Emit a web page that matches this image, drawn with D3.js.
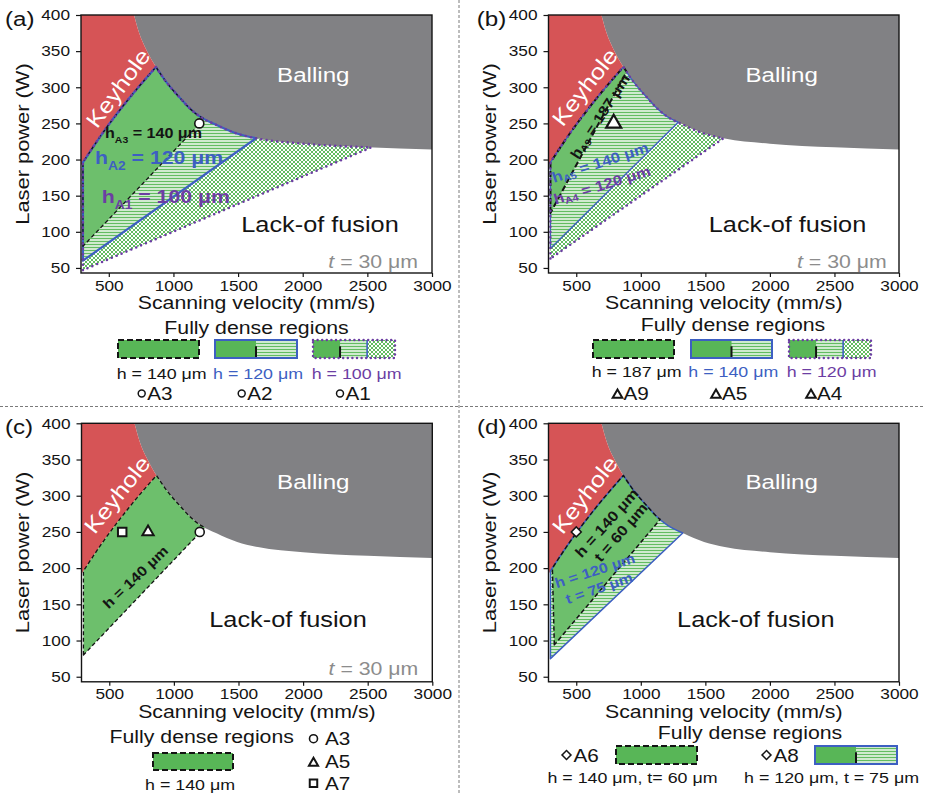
<!DOCTYPE html>
<html>
<head>
<meta charset="utf-8">
<script src="https://cdn.jsdelivr.net/npm/d3@7/dist/d3.min.js"></script>
<style>
  html, body { margin: 0; padding: 0; background: #fff; }
  svg { display: block; }
</style>
</head>
<body>
<svg id="fig" width="925" height="793"></svg>
<script>
// ---------------- data ----------------
const velocityDomain = [285, 3000];   // scanning velocity, mm/s
const powerDomain = [43, 400];        // laser power, W
const velocityTicks = [500, 1000, 1500, 2000, 2500, 3000];
const powerTicks = [50, 100, 150, 200, 250, 300, 350, 400];

// Upper boundary of the conduction window (onset of balling), [v, P]
const ballingBoundary = [[695,400],[735,375],[790,352],[865,328],[950,306],[1047,286],[1125,271],[1200,260],[1330,248],[1490,236],[1650,229],[2000,222],[2500,217],[3000,214]];
// Lower edge of the keyhole regime, [v, P]; the last point is where it meets balling
const keyholeBoundary = [[285,192],[450,236],[650,283],[865,328]];

// Fully dense windows: left-edge velocity, lower-left corner [v, P],
// and the velocity at which the lower edge reaches the balling boundary.
const windowsA = [
  { h: 100, left: 300, start: [300, 47], endV: 2530 },
  { h: 120, left: 300, start: [300, 60], endV: 1640 },
  { h: 140, left: 300, start: [300, 80], endV: 1240 }
];
const windowsB = [
  { h: 120, left: 300, start: [300, 63], endV: 1640 },
  { h: 140, left: 300, start: [300, 77], endV: 1290 },
  { h: 187, left: 300, start: [300, 126], endV: 890 }
];
const windowsC = [
  { h: 140, left: 300, start: [300, 80], endV: 1240 }
];
const windowsD = [
  { h: 120, t: 75, left: 300, start: [300, 75], endV: 1325 },
  { h: 140, t: 60, left: 315, start: [330, 94], endV: 1150 }
];

// Printed samples
const pointsA = [{ id: "A3", v: 1200, P: 250 }];
const pointsB = [{ id: "A9", v: 790, P: 250 }];
const pointsC = [{ id: "A7", v: 600, P: 250 }, { id: "A5", v: 800, P: 250 }, { id: "A3", v: 1200, P: 250 }];
const pointsD = [{ id: "A6/A8", v: 500, P: 250 }];

// Legend texts
const legendTextA = ["h = 140 \u03bcm", "h = 120 \u03bcm", "h = 100 \u03bcm"];
const sampleTextA = ["A3", "A2", "A1"];
const legendTextB = ["h = 187 \u03bcm", "h = 140 \u03bcm", "h = 120 \u03bcm"];
const sampleTextB = ["A9", "A5", "A4"];
const legendTextC = ["h = 140 \u03bcm"];
const sampleTextC = ["A3", "A5", "A7"];
const legendTextD = ["h = 140 \u03bcm, t= 60 \u03bcm", "h = 120 \u03bcm, t = 75 \u03bcm"];
const sampleTextD = ["A6", "A8"];

// ---------------- styling ----------------
const SX = 1.15;   // horizontal stretch applied to all text
const FONT = "'Liberation Sans', Arial, Helvetica, sans-serif";
const C = {
  keyhole: "#d65456", balling: "#818184", green: "#6dbf6c", legendGreen: "#58b657",
  hatch: "#62bc61", blue: "#3d5fc2", purple: "#6c3ea3", grey: "#8c8c8c", ink: "#141414"
};

const svg = d3.select("#fig");
const defs = svg.append("defs");

const pH = defs.append("pattern").attr("id", "hatch").attr("patternUnits", "userSpaceOnUse")
  .attr("width", 6).attr("height", 3);
pH.append("rect").attr("width", 6).attr("height", 3).attr("fill", "#fff");
pH.append("rect").attr("y", 0.7).attr("width", 6).attr("height", 1.6).attr("fill", C.hatch);

const pC = defs.append("pattern").attr("id", "cross").attr("patternUnits", "userSpaceOnUse")
  .attr("width", 4).attr("height", 4);
pC.append("rect").attr("width", 4).attr("height", 4).attr("fill", "#fff");
pC.append("path").attr("d", "M0,0L4,4M4,0L0,4").attr("stroke", C.hatch).attr("stroke-width", 1);

// ---------------- helpers ----------------
const peak = keyholeBoundary[keyholeBoundary.length - 1];

function interp(curve, v) {
  for (let i = 1; i < curve.length; i++) {
    const a = curve[i - 1], b = curve[i];
    if (v >= a[0] && v <= b[0]) return a[1] + (b[1] - a[1]) * (v - a[0]) / (b[0] - a[0]);
  }
  return curve[curve.length - 1][1];
}

function shape(x, y, pieces) {
  const mono = d3.line().x(d => x(d[0])).y(d => y(d[1])).curve(d3.curveMonotoneX);
  const parts = pieces.map(p => (p.curve && p.pts.length > 1)
    ? mono(p.pts).slice(1)
    : p.pts.map(d => `${x(d[0])},${y(d[1])}`).join("L"));
  return "M" + parts.join("L") + "Z";
}

function windowPieces(w) {
  const top = [w.left, interp(keyholeBoundary, w.left)];
  const kh = [top, ...keyholeBoundary.filter(p => p[0] > w.left)];
  const bl = [...ballingBoundary.filter(p => p[0] >= peak[0] && p[0] < w.endV),
              [w.endV, interp(ballingBoundary, w.endV)]];
  return [{ pts: [w.start] }, { pts: kh, curve: true }, { pts: bl, curve: true }];
}

function label(g, o, parts) {
  const size = o.size;
  const t = g.append("text")
    .attr("transform", `translate(${o.x},${o.y})${o.rotate ? ` rotate(${o.rotate})` : ""} scale(${SX},1)`)
    .attr("font-family", FONT).attr("font-size", size)
    .attr("text-anchor", o.anchor || "start").attr("fill", o.fill || C.ink);
  if (o.bold) t.attr("font-weight", "bold");
  if (o.central) t.attr("dominant-baseline", "central");
  let inSub = false;
  (Array.isArray(parts) ? parts : [parts]).forEach(p => {
    const q = typeof p === "string" ? { t: p } : p;
    const s = t.append("tspan");
    if (q.sub && !inSub) { s.attr("dy", size * 0.3); inSub = true; }
    else if (!q.sub && inSub) { s.attr("dy", -size * 0.3); inSub = false; }
    if (q.sub) s.attr("font-size", size * 0.65);
    if (q.italic) s.attr("font-style", "italic");
    s.text(q.t);
  });
  return t;
}

function marker(g, kind, cx, cy, area, sw) {
  if (kind === "circle") {
    return g.append("circle").attr("cx", cx).attr("cy", cy).attr("r", Math.sqrt(area / Math.PI))
      .attr("fill", "#fff").attr("stroke", C.ink).attr("stroke-width", sw);
  }
  const sym = kind === "triangle" ? d3.symbolTriangle : d3.symbolSquare;
  return g.append("path").attr("d", d3.symbol(sym, area)())
    .attr("transform", `translate(${cx},${cy})${kind === "diamond" ? " rotate(45)" : ""}`)
    .attr("fill", "#fff").attr("stroke", C.ink).attr("stroke-width", sw).attr("stroke-linejoin", "miter");
}

function panel(cfg) {
  const x = d3.scaleLinear().domain(velocityDomain).range([cfg.left, cfg.right]);
  const y = d3.scaleLinear().domain(powerDomain).range([cfg.bottom, cfg.top]);
  const g = svg.append("g");
  defs.append("clipPath").attr("id", "clip-" + cfg.id).append("rect")
    .attr("x", cfg.left).attr("y", cfg.top)
    .attr("width", cfg.right - cfg.left).attr("height", cfg.bottom - cfg.top);
  const plot = g.append("g").attr("clip-path", `url(#clip-${cfg.id})`);
  plot.append("rect").attr("x", cfg.left).attr("y", cfg.top)
    .attr("width", cfg.right - cfg.left).attr("height", cfg.bottom - cfg.top).attr("fill", "#fff");

  // balling and keyhole regimes
  plot.append("path").attr("fill", C.balling)
    .attr("d", shape(x, y, [{ pts: ballingBoundary, curve: true }, { pts: [[3000, 400]] }]));
  plot.append("path").attr("fill", C.keyhole)
    .attr("d", shape(x, y, [
      { pts: [[velocityDomain[0], 400]] },
      { pts: ballingBoundary.filter(p => p[0] <= peak[0]), curve: true },
      { pts: keyholeBoundary.slice().reverse(), curve: true }
    ]));

  // fully dense windows: fills (largest first), then outlines
  const paths = cfg.windows.map(w => shape(x, y, windowPieces(w)));
  cfg.windows.forEach((w, i) => plot.append("path").attr("d", paths[i]).attr("fill", cfg.looks[i].fill));
  cfg.windows.map((w, i) => i)
    .sort((a, b) => cfg.looks[a].order - cfg.looks[b].order)
    .forEach(i => {
      const L = cfg.looks[i];
      plot.append("path").attr("d", paths[i]).attr("fill", "none")
        .attr("stroke", L.stroke).attr("stroke-width", L.width)
        .attr("stroke-dasharray", L.dash || null)
        .attr("stroke-linecap", L.cap || "butt").attr("stroke-linejoin", "round");
    });

  // axes
  const gx = g.append("g").attr("transform", `translate(0,${cfg.bottom})`)
    .call(d3.axisBottom(x).tickValues(velocityTicks).tickSize(4).tickPadding(3).tickFormat(d3.format("d")));
  const gy = g.append("g").attr("transform", `translate(${cfg.left},0)`)
    .call(d3.axisLeft(y).tickValues(powerTicks).tickSize(5).tickPadding(6).tickFormat(d3.format("d")));
  [gx, gy].forEach(a => {
    a.select(".domain").remove();
    a.attr("font-size", 15).attr("font-family", FONT);
    a.selectAll("line").attr("stroke", C.ink).attr("stroke-width", 1.2);
    a.selectAll("text").attr("fill", C.ink).attr("transform", `scale(${SX},1)`);
  });
  gy.selectAll("text").attr("x", -11 / SX);
  g.append("rect").attr("x", cfg.left).attr("y", cfg.top)
    .attr("width", cfg.right - cfg.left).attr("height", cfg.bottom - cfg.top)
    .attr("fill", "none").attr("stroke", C.ink).attr("stroke-width", 1.4);

  const midX = (cfg.left + cfg.right) / 2, midY = (cfg.top + cfg.bottom) / 2;
  label(g, { x: cfg.left - 59.5 + (cfg.yTitleDx || 0), y: midY, size: 19, anchor: "middle", rotate: -90, central: true }, "Laser power (W)");
  label(g, { x: midX, y: cfg.bottom + 36, size: 18.5, anchor: "middle" }, "Scanning velocity (mm/s)");
  label(g, { x: cfg.tagX, y: cfg.top + 10.5, size: 21 }, `(${cfg.id})`);
  return { g, x, y };
}

function legendBox(g, x0, y0, w, h, kind) {
  if (kind === "dense") {
    g.append("rect").attr("x", x0).attr("y", y0).attr("width", w).attr("height", h)
      .attr("fill", C.legendGreen).attr("stroke", C.ink).attr("stroke-width", 2).attr("stroke-dasharray", "6,3");
    return;
  }
  const split1 = kind === "hatch" ? 0.5 : 0.33;
  g.append("rect").attr("x", x0).attr("y", y0).attr("width", w).attr("height", h).attr("fill", "url(#hatch)");
  g.append("rect").attr("x", x0).attr("y", y0).attr("width", w * split1).attr("height", h).attr("fill", C.legendGreen);
  g.append("line").attr("x1", x0 + w * split1).attr("x2", x0 + w * split1)
    .attr("y1", y0 + h * 0.35).attr("y2", y0 + h).attr("stroke", C.ink).attr("stroke-width", 2);
  if (kind === "hatch") {
    g.append("rect").attr("x", x0).attr("y", y0).attr("width", w).attr("height", h)
      .attr("fill", "none").attr("stroke", C.blue).attr("stroke-width", 2);
  } else {
    const s2 = x0 + w * 0.66;
    g.append("rect").attr("x", s2).attr("y", y0).attr("width", x0 + w - s2).attr("height", h).attr("fill", "url(#cross)");
    g.append("line").attr("x1", s2).attr("x2", s2).attr("y1", y0).attr("y2", y0 + h)
      .attr("stroke", C.blue).attr("stroke-width", 1.6);
    g.append("rect").attr("x", x0).attr("y", y0).attr("width", w).attr("height", h)
      .attr("fill", "none").attr("stroke", C.purple).attr("stroke-width", 2.5)
      .attr("stroke-dasharray", "0,4.6").attr("stroke-linecap", "round");
  }
}

const mu = "\u03bcm";

// ---------------- panel (a) ----------------
{
  const cfg = { id: "a", left: 81, right: 432, top: 15, bottom: 273, tagX: 5, windows: windowsA,
    looks: [
      { fill: "url(#cross)", stroke: C.purple, width: 2.6, dash: "0,5.3", cap: "round", order: 2 },
      { fill: "url(#hatch)", stroke: C.blue, width: 2.2, order: 0 },
      { fill: C.green, stroke: C.ink, width: 1.3, dash: "4,2.6", order: 1 }
    ] };
  const { g, x, y } = panel(cfg);
  label(g, { x: 313.3, y: 81.7, size: 21, anchor: "middle", fill: "#fff" }, "Balling");
  label(g, { x: 118.3, y: 88.3, size: 22, anchor: "middle", fill: "#fff", rotate: -53.5, central: true }, "Keyhole");
  label(g, { x: 320, y: 231.7, size: 22, anchor: "middle" }, "Lack-of fusion");
  label(g, { x: 418, y: 268, size: 18.5, anchor: "end", fill: C.grey }, [{ t: "t", italic: true }, " = 30 " + mu]);
  label(g, { x: 105, y: 138.3, size: 14, bold: true }, ["h", { t: "A3", sub: true }, " = 140 " + mu]);
  label(g, { x: 95, y: 164, size: 18.5, bold: true, fill: C.blue }, ["h", { t: "A2", sub: true }, " = 120 " + mu]);
  label(g, { x: 101.7, y: 203.3, size: 18.5, bold: true, fill: C.purple }, ["h", { t: "A1", sub: true }, " = 100 " + mu]);
  pointsA.forEach(p => marker(g, "circle", x(p.v), y(p.P), 64, 1.6));

  label(g, { x: 256.5, y: 334, size: 18.5, anchor: "middle" }, "Fully dense regions");
  legendBox(g, 118, 340, 81, 18, "dense");
  legendBox(g, 215, 340, 82, 18, "hatch");
  legendBox(g, 313, 340, 82, 18, "cross");
  const cx = [161.7, 258, 356.7], cols = [C.ink, C.blue, C.purple];
  legendTextA.forEach((s, i) => label(g, { x: cx[i], y: 379, size: 15.5, anchor: "middle", fill: cols[i] }, s));
  const mx = [141.7, 241.7, 340];
  sampleTextA.forEach((s, i) => {
    marker(g, "circle", mx[i], 393.5, 38, 1.5);
    label(g, { x: mx[i] + 5.5, y: 400, size: 18 }, s);
  });
}

// ---------------- panel (b) ----------------
{
  const cfg = { id: "b", left: 548.5, right: 899, top: 15, bottom: 273, tagX: 476.7, windows: windowsB,
    looks: [
      { fill: "url(#cross)", stroke: C.purple, width: 2.6, dash: "0,5.3", cap: "round", order: 2 },
      { fill: "url(#hatch)", stroke: C.blue, width: 1.3, order: 0 },
      { fill: C.green, stroke: C.ink, width: 2, dash: "6,3", order: 1 }
    ] };
  const { g, x, y } = panel(cfg);
  label(g, { x: 781.7, y: 81.7, size: 21, anchor: "middle", fill: "#fff" }, "Balling");
  label(g, { x: 585, y: 87.3, size: 22, anchor: "middle", fill: "#fff", rotate: -52, central: true }, "Keyhole");
  label(g, { x: 787.5, y: 231.7, size: 22, anchor: "middle" }, "Lack-of fusion");
  label(g, { x: 886.7, y: 268.3, size: 18.5, anchor: "end", fill: C.grey }, [{ t: "t", italic: true }, " = 30 " + mu]);
  label(g, { x: 599.5, y: 116, size: 14, bold: true, anchor: "middle", rotate: -57, central: true }, ["h", { t: "A9", sub: true }, " = 187 " + mu]);
  label(g, { x: 600, y: 162, size: 14.5, bold: true, anchor: "middle", rotate: -18, central: true, fill: C.blue }, ["h", { t: "A5", sub: true }, " = 140 " + mu]);
  label(g, { x: 602, y: 184.5, size: 14.5, bold: true, anchor: "middle", rotate: -17, central: true, fill: C.purple }, ["h", { t: "A4", sub: true }, " = 120 " + mu]);
  pointsB.forEach(p => marker(g, "triangle", x(p.v), y(p.P), 97, 2.2));

  label(g, { x: 733, y: 331, size: 18.5, anchor: "middle" }, "Fully dense regions");
  legendBox(g, 593, 340, 81, 18, "dense");
  legendBox(g, 691, 340, 81, 18, "hatch");
  legendBox(g, 789, 340, 82, 18, "cross");
  const cx = [636.7, 733.3, 831.7], cols = [C.ink, C.blue, C.purple];
  legendTextB.forEach((s, i) => label(g, { x: cx[i], y: 376.5, size: 15.5, anchor: "middle", fill: cols[i] }, s));
  const mx = [617.5, 716, 811];
  sampleTextB.forEach((s, i) => {
    marker(g, "triangle", mx[i], 395, 40, 2);
    label(g, { x: mx[i] + 6, y: 400, size: 18 }, s);
  });
}

// ---------------- panel (c) ----------------
{
  const cfg = { id: "c", left: 81.5, right: 432.3, top: 423.3, bottom: 681.8, tagX: 5, windows: windowsC,
    looks: [
      { fill: C.green, stroke: C.ink, width: 1.3, dash: "4,2.6", order: 1 }
    ] };
  const { g, x, y } = panel(cfg);
  label(g, { x: 313.3, y: 489.3, size: 21, anchor: "middle", fill: "#fff" }, "Balling");
  label(g, { x: 117.3, y: 495, size: 22, anchor: "middle", fill: "#fff", rotate: -51.5, central: true }, "Keyhole");
  label(g, { x: 288, y: 626.7, size: 22, anchor: "middle" }, "Lack-of fusion");
  label(g, { x: 418.3, y: 675, size: 18.5, anchor: "end", fill: C.grey }, [{ t: "t", italic: true }, " = 30 " + mu]);
  label(g, { x: 135, y: 576.7, size: 14, bold: true, anchor: "middle", rotate: -43.5, central: true }, "h = 140 " + mu);
  const kinds = { A7: "square", A5: "triangle", A3: "circle" };
  const areas = { A7: 72, A5: 55, A3: 64 };
  pointsC.forEach(p => marker(g, kinds[p.id], x(p.v), y(p.P), areas[p.id], p.id === "A3" ? 1.6 : 2));

  label(g, { x: 201.7, y: 742.7, size: 18.5, anchor: "middle" }, "Fully dense regions");
  legendBox(g, 153, 753, 80, 17, "dense");
  label(g, { x: 190, y: 790, size: 15.5, anchor: "middle" }, legendTextC[0]);
  const my = [738.7, 763, 783.3], base = [745, 768.3, 790];
  const lk = { A3: ["circle", 50, 1.6], A5: ["triangle", 36, 2], A7: ["square", 56, 2] };
  sampleTextC.forEach((s, i) => {
    marker(g, lk[s][0], 313.5, my[i], lk[s][1], lk[s][2]);
    label(g, { x: 325, y: base[i], size: 18 }, s);
  });
}

// ---------------- panel (d) ----------------
{
  const cfg = { id: "d", left: 548.5, right: 899, top: 423.3, bottom: 681.8, tagX: 477, windows: windowsD,
    looks: [
      { fill: "url(#hatch)", stroke: C.blue, width: 1.5, order: 0 },
      { fill: C.green, stroke: C.ink, width: 1.5, dash: "4.5,2.6", order: 1 }
    ] };
  const { g, x, y } = panel(cfg);
  label(g, { x: 781.7, y: 489.3, size: 21, anchor: "middle", fill: "#fff" }, "Balling");
  label(g, { x: 585, y: 495, size: 22, anchor: "middle", fill: "#fff", rotate: -52, central: true }, "Keyhole");
  label(g, { x: 755.8, y: 626.7, size: 22, anchor: "middle" }, "Lack-of fusion");
  label(g, { x: 606.3, y: 522.5, size: 14.5, bold: true, anchor: "middle", rotate: -48, central: true }, "h = 140 " + mu);
  label(g, { x: 620.5, y: 532, size: 14.5, bold: true, anchor: "middle", rotate: -49, central: true }, "t = 60 " + mu);
  label(g, { x: 594.7, y: 570, size: 14, bold: true, anchor: "middle", rotate: -18, central: true, fill: C.blue }, "h = 120 " + mu);
  label(g, { x: 598.8, y: 587.5, size: 14, bold: true, anchor: "middle", rotate: -19, central: true, fill: C.blue }, "t = 75 " + mu);
  pointsD.forEach(p => marker(g, "diamond", x(p.v), y(p.P), 50, 1.5));

  label(g, { x: 750, y: 739.3, size: 18.5, anchor: "middle" }, "Fully dense regions");
  legendBox(g, 616, 746, 81, 18, "dense");
  legendBox(g, 815, 746, 82, 18, "hatch");
  const dx = [566.5, 766.5];
  sampleTextD.forEach((s, i) => {
    marker(g, "diamond", dx[i], 755, 40, 1.5);
    label(g, { x: dx[i] + 7, y: 761.7, size: 18 }, s);
  });
  const cx = [632.5, 831.5];
  legendTextD.forEach((s, i) => label(g, { x: cx[i], y: 783.3, size: 15.5, anchor: "middle" }, s));
}

// ---------------- panel separators ----------------
svg.append("line").attr("x1", 459).attr("x2", 459).attr("y1", 0).attr("y2", 793)
  .attr("stroke", "#7a7a7a").attr("stroke-width", 1).attr("stroke-dasharray", "3,2");
svg.append("line").attr("x1", 0).attr("x2", 925).attr("y1", 406.5).attr("y2", 406.5)
  .attr("stroke", "#7a7a7a").attr("stroke-width", 1).attr("stroke-dasharray", "3,2");
</script>
</body>
</html>
